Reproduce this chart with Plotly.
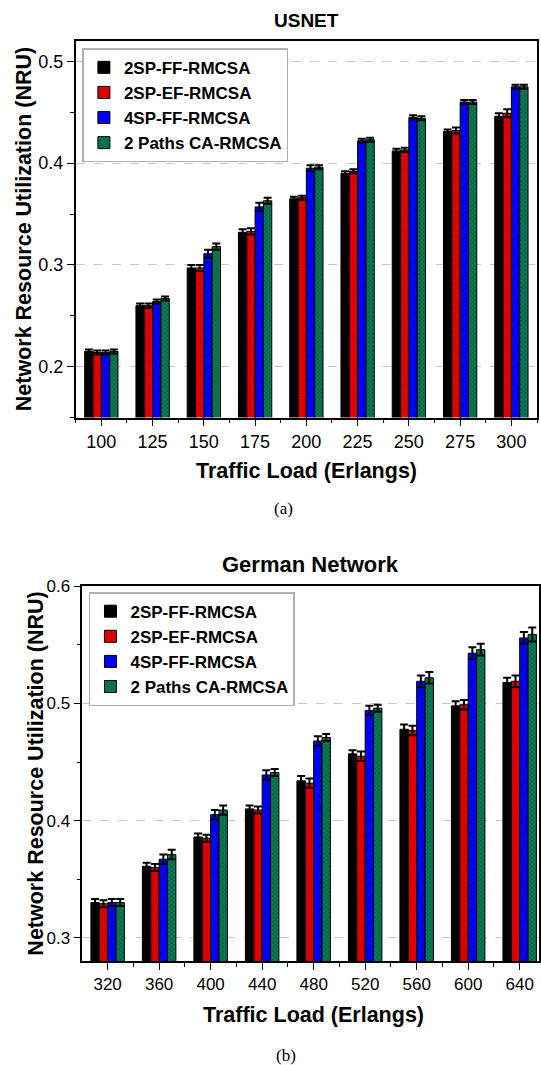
import plotly.graph_objects as go

# ---------------- data ----------------
series_names = ["2SP-FF-RMCSA", "2SP-EF-RMCSA", "4SP-FF-RMCSA", "2 Paths CA-RMCSA"]

usnet_loads = ["100", "125", "150", "175", "200", "225", "250", "275", "300"]
usnet_2sp_ff = [0.215, 0.260, 0.297, 0.332, 0.365, 0.390, 0.412, 0.431, 0.446]
usnet_2sp_ef = [0.214, 0.260, 0.297, 0.333, 0.366, 0.392, 0.413, 0.432, 0.449]
usnet_4sp_ff = [0.214, 0.264, 0.311, 0.357, 0.395, 0.422, 0.445, 0.460, 0.475]
usnet_ca = [0.215, 0.267, 0.318, 0.363, 0.396, 0.423, 0.444, 0.460, 0.475]
usnet_err_2sp_ff = [0.002, 0.002, 0.003, 0.003, 0.002, 0.002, 0.002, 0.002, 0.003]
usnet_err_2sp_ef = [0.002, 0.002, 0.003, 0.003, 0.002, 0.002, 0.002, 0.003, 0.004]
usnet_err_4sp_ff = [0.002, 0.002, 0.004, 0.004, 0.003, 0.002, 0.002, 0.002, 0.002]
usnet_err_ca = [0.002, 0.002, 0.003, 0.003, 0.002, 0.002, 0.002, 0.002, 0.002]

german_loads = ["320", "360", "400", "440", "480", "520", "560", "600", "640"]
german_2sp_ff = [0.330, 0.361, 0.386, 0.410, 0.434, 0.457, 0.478, 0.498, 0.518]
german_2sp_ef = [0.329, 0.360, 0.385, 0.409, 0.432, 0.455, 0.477, 0.499, 0.519]
german_4sp_ff = [0.330, 0.367, 0.405, 0.439, 0.468, 0.494, 0.519, 0.543, 0.556]
german_ca = [0.330, 0.371, 0.409, 0.441, 0.471, 0.496, 0.522, 0.546, 0.559]
german_err_2sp_ff = [0.003, 0.003, 0.003, 0.003, 0.004, 0.003, 0.004, 0.004, 0.004]
german_err_2sp_ef = [0.003, 0.003, 0.003, 0.003, 0.004, 0.004, 0.004, 0.004, 0.005]
german_err_4sp_ff = [0.003, 0.004, 0.004, 0.004, 0.004, 0.004, 0.005, 0.005, 0.005]
german_err_ca = [0.003, 0.004, 0.004, 0.003, 0.003, 0.003, 0.005, 0.005, 0.006]

usnet_yticks = [0.2, 0.3, 0.4, 0.5]
german_yticks = [0.3, 0.4, 0.5, 0.6]

# ---------------- styles ----------------
fills = ["#000000", "#ee0000", "#0000ff", "#0a7a52"]
patterns = [
    dict(shape=""),
    dict(shape=".", fgcolor="#700000", size=3, solidity=0.3),
    dict(shape="/", fgcolor="#000033", size=9, solidity=0.12),
    dict(shape="x", fgcolor="#033a26", size=3, solidity=0.35),
]

FONT = "Liberation Sans, Arial, sans-serif"
SERIF = "Liberation Serif, Times New Roman, serif"

fig = go.Figure()

def add_group(loads, vals_list, errs_list, xa, ya, legend):
    idx = list(range(len(loads)))
    for k, (vals, errs) in enumerate(zip(vals_list, errs_list)):
        fig.add_trace(go.Bar(
            x=idx, y=vals, name=series_names[k],
            xaxis=xa, yaxis=ya, legend=legend,
            marker=dict(color=fills[k], line=dict(color="#000000", width=1),
                        pattern=patterns[k]),
            error_y=dict(type="data", array=errs, visible=True,
                         color="#000000", thickness=2, width=4),
            offsetgroup=str(k),
        ))

add_group(usnet_loads,
          [usnet_2sp_ff, usnet_2sp_ef, usnet_4sp_ff, usnet_ca],
          [usnet_err_2sp_ff, usnet_err_2sp_ef, usnet_err_4sp_ff, usnet_err_ca],
          "x", "y", "legend")
add_group(german_loads,
          [german_2sp_ff, german_2sp_ef, german_4sp_ff, german_ca],
          [german_err_2sp_ff, german_err_2sp_ef, german_err_4sp_ff, german_err_ca],
          "x2", "y2", "legend2")

W, H = 541, 1065

def py(y):
    # vertical pixel (from top) -> paper fraction, with empirical render correction
    yc = (y - 8) * H / (H - 8)
    return 1 - yc / H

def xax(domain, anchor, labels, rng, size):
    return dict(
        domain=domain, anchor=anchor, range=rng,
        tickmode="array", tickvals=list(range(len(labels))), ticktext=labels,
        ticks="outside", ticklen=7, tickwidth=1.2, tickcolor="#000",
        minor=dict(tickvals=[i + 0.5 for i in range(-1, len(labels))],
                   ticks="outside", ticklen=4, tickcolor="#000", showgrid=False),
        showline=True, linecolor="#000", linewidth=1.5, mirror=True,
        showgrid=False, zeroline=False,
        tickfont=dict(family=FONT, size=size, color="#000"),
    )

def yax(domain, anchor, rng, tickvals, size):
    minor_vals = [round(v - 0.05, 2) for v in tickvals] + [round(tickvals[-1] + 0.05, 2)]
    return dict(
        domain=domain, anchor=anchor, range=rng,
        tickmode="array", tickvals=tickvals, ticktext=[f"{v:.1f}" for v in tickvals],
        ticks="outside", ticklen=7, tickwidth=1.2, tickcolor="#000",
        minor=dict(tickvals=minor_vals, ticks="outside", ticklen=4,
                   tickcolor="#000", showgrid=False),
        showline=True, linecolor="#000", linewidth=1.5, mirror=True,
        showgrid=True, gridcolor="#c8c8c8", griddash="dash", gridwidth=1,
        zeroline=False,
        tickfont=dict(family=FONT, size=size, color="#000"),
    )

legend_style = dict(
    bgcolor="#ffffff", bordercolor="#b0b0b0", borderwidth=1.5,
    font=dict(family=FONT, size=17, color="#000", weight="bold"),
    xanchor="left", yanchor="top", tracegroupgap=0,
)

ann = []
def txt(text, x, y, size, angle=0, family=FONT, bold=True):
    ann.append(dict(text=text, x=x / W, y=py(y), xref="paper", yref="paper",
                    showarrow=False, xanchor="center", yanchor="middle",
                    textangle=angle,
                    font=dict(family=family, size=size, color="#000",
                              weight="bold" if bold else "normal")))

txt("USNET", 308, 20, 19)
txt("German Network", 312, 564, 22)
txt("Traffic Load (Erlangs)", 307.5, 470, 21.5)
txt("Traffic Load (Erlangs)", 315, 1015, 21.5)
txt("Network Resource Utilization (NRU)", 24, 228.5, 21.5, angle=-90)
txt("Network Resource Utilization (NRU)", 36, 773.5, 21.5, angle=-90)
txt("(a)", 285, 508, 17, family=SERIF, bold=False)
txt("(b)", 286.7, 1055, 17, family=SERIF, bold=False)

fig.update_layout(
    width=W, height=H,
    margin=dict(l=0, r=0, t=0, b=0),
    paper_bgcolor="#ffffff", plot_bgcolor="#ffffff",
    barmode="group", bargap=0.35, bargroupgap=0,
    xaxis=xax([76 / W, 539 / W], "y", usnet_loads, [-0.5, 8.5], 18),
    yaxis=yax([py(417), py(40)], "x", [0.15, 0.52], usnet_yticks, 18),
    xaxis2=xax([82.7 / W, 1.0], "y2", german_loads, [-0.49, 8.375], 17),
    yaxis2=yax([py(961), py(586)], "x2", [0.28, 0.6], german_yticks, 17),
    legend=dict(x=82.7 / W, y=py(47.3), **legend_style),
    legend2=dict(x=89.3 / W, y=py(591.7), **legend_style),
    annotations=ann,
    showlegend=True,
)

fig.write_html(
    "out.html",
    config={"displayModeBar": False},
    post_script="document.documentElement.style.margin='0';"
                "document.body.style.margin='0';document.body.style.padding='0';"
                "document.body.style.overflow='hidden';",
)
